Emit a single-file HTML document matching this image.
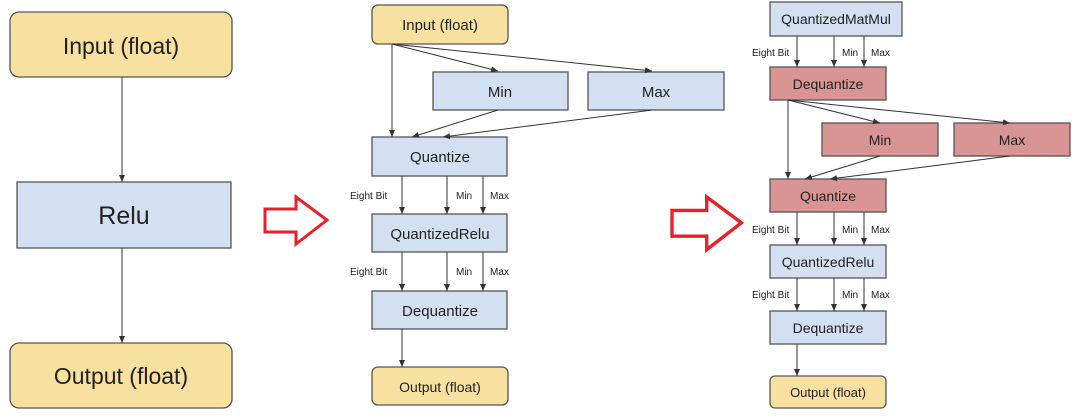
<!DOCTYPE html>
<html><head><meta charset="utf-8"><style>
html,body{margin:0;padding:0;background:#fff;width:1080px;height:420px;overflow:hidden}
svg text{font-family:"Liberation Sans",sans-serif;fill:#222}
</style></head><body>
<svg width="1080" height="420" viewBox="0 0 1080 420" xmlns="http://www.w3.org/2000/svg">
<defs><marker id="a" markerWidth="8" markerHeight="8" refX="7" refY="4" orient="auto" markerUnits="userSpaceOnUse"><path d="M0,1 L7,4 L0,7z" fill="#333"/></marker></defs>
<g stroke="#555" stroke-width="1.3">
<rect x="10" y="12" width="222" height="65" rx="9" fill="#f8e0a0"/>
<rect x="17" y="182" width="214" height="66" fill="#d3e0f1"/>
<rect x="10" y="343" width="222" height="65" rx="9" fill="#f8e0a0"/>
<rect x="372" y="5" width="136" height="39" rx="6" fill="#f8e0a0"/>
<rect x="433" y="72" width="135" height="38" fill="#d3e0f1"/>
<rect x="588" y="72" width="136" height="38" fill="#d3e0f1"/>
<rect x="372" y="137" width="135" height="39" fill="#d3e0f1"/>
<rect x="372" y="214" width="135" height="38" fill="#d3e0f1"/>
<rect x="372" y="291" width="135" height="38" fill="#d3e0f1"/>
<rect x="372" y="367" width="136" height="38" rx="6" fill="#f8e0a0"/>
<rect x="770" y="2" width="132" height="34" fill="#d3e0f1"/>
<rect x="770" y="67" width="116" height="33" fill="#d99594"/>
<rect x="822" y="123" width="116" height="33" fill="#d99594"/>
<rect x="954" y="123" width="116" height="33" fill="#d99594"/>
<rect x="770" y="179" width="116" height="33" fill="#d99594"/>
<rect x="770" y="245" width="116" height="33" fill="#d3e0f1"/>
<rect x="770" y="311" width="116" height="33" fill="#d3e0f1"/>
<rect x="770" y="376" width="116" height="32" rx="5" fill="#f8e0a0"/>
</g>
<g stroke="#333" stroke-width="1" fill="none" marker-end="url(#a)">
<line x1="122" y1="77" x2="122" y2="182"/>
<line x1="122" y1="248" x2="122" y2="343"/>
<line x1="392" y1="44" x2="392" y2="137"/>
<line x1="392" y1="44" x2="498" y2="71"/>
<line x1="392" y1="44" x2="652" y2="71"/>
<line x1="498" y1="110" x2="412" y2="137"/>
<line x1="652" y1="110" x2="443" y2="137"/>
<line x1="402" y1="176" x2="402" y2="214"/><line x1="447" y1="176" x2="447" y2="214"/><line x1="483" y1="176" x2="483" y2="214"/>
<line x1="402" y1="252" x2="402" y2="291"/><line x1="447" y1="252" x2="447" y2="291"/><line x1="483" y1="252" x2="483" y2="291"/>
<line x1="402" y1="329" x2="402" y2="367"/>
<line x1="797" y1="36" x2="797" y2="67"/><line x1="834" y1="36" x2="834" y2="67"/><line x1="864" y1="36" x2="864" y2="67"/>
<line x1="788" y1="100" x2="788" y2="179"/>
<line x1="788" y1="100" x2="880" y2="123"/>
<line x1="788" y1="100" x2="1010" y2="123"/>
<line x1="880" y1="156" x2="805" y2="179"/>
<line x1="1010" y1="156" x2="830" y2="179"/>
<line x1="797" y1="212" x2="797" y2="245"/><line x1="834" y1="212" x2="834" y2="245"/><line x1="864" y1="212" x2="864" y2="245"/>
<line x1="797" y1="278" x2="797" y2="311"/><line x1="834" y1="278" x2="834" y2="311"/><line x1="864" y1="278" x2="864" y2="311"/>
<line x1="797" y1="344" x2="797" y2="376"/>
</g>
<g fill="none" stroke="#e8202a" stroke-width="3" stroke-linejoin="miter">
<path d="M265,209 L296,209 L296,197 L327,220 L296,244 L296,232 L265,232 Z"/>
<path transform="translate(672,197) scale(1.12) translate(-265,-197)" d="M265,209 L296,209 L296,197 L327,220 L296,244 L296,232 L265,232 Z"/>
</g>
<g text-anchor="middle">
<text x="121" y="54" font-size="23">Input (float)</text>
<text x="124" y="224" font-size="25">Relu</text>
<text x="121" y="384" font-size="23">Output (float)</text>
<text x="440" y="30" font-size="15">Input (float)</text>
<text x="500" y="97" font-size="15">Min</text>
<text x="656" y="97" font-size="15">Max</text>
<text x="440" y="162" font-size="15">Quantize</text>
<text x="440" y="239" font-size="15">QuantizedRelu</text>
<text x="440" y="316" font-size="15">Dequantize</text>
<text x="440" y="392" font-size="14">Output (float)</text>
<text x="836" y="24" font-size="14">QuantizedMatMul</text>
<text x="828" y="89" font-size="14">Dequantize</text>
<text x="880" y="145" font-size="14">Min</text>
<text x="1012" y="145" font-size="14">Max</text>
<text x="828" y="201" font-size="14">Quantize</text>
<text x="828" y="267" font-size="14">QuantizedRelu</text>
<text x="828" y="333" font-size="14">Dequantize</text>
<text x="828" y="397" font-size="13">Output (float)</text>
</g>
<g font-size="10">
<text x="350" y="199">Eight Bit</text><text x="456" y="199">Min</text><text x="490" y="199">Max</text>
<text x="350" y="275">Eight Bit</text><text x="456" y="275">Min</text><text x="490" y="275">Max</text>
<text x="752" y="56">Eight Bit</text><text x="842" y="56">Min</text><text x="871" y="56">Max</text>
<text x="752" y="233">Eight Bit</text><text x="842" y="233">Min</text><text x="871" y="233">Max</text>
<text x="752" y="298">Eight Bit</text><text x="842" y="298">Min</text><text x="871" y="298">Max</text>
</g>
</svg>
</body></html>
